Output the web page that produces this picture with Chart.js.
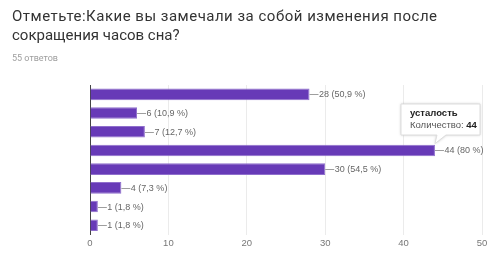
<!DOCTYPE html>
<html><head><meta charset="utf-8">
<script src="https://cdn.jsdelivr.net/npm/chart.js@4"></script>
<style>
html,body{margin:0;padding:0;background:#fff;}
#wrap{position:relative;width:503px;height:269px;overflow:hidden;}
#title{position:absolute;left:12px;top:7px;font-family:Roboto,"Noto Sans",sans-serif;font-size:15px;line-height:19px;color:#333;white-space:nowrap;}
#title .l1{letter-spacing:0.5px;}
#sub{position:absolute;left:12px;top:53px;font-family:Roboto,"Noto Sans",sans-serif;font-size:9px;color:#9e9e9e;}
canvas{position:absolute;left:0;top:0;}
</style></head>
<body><div id="wrap">
<canvas id="c" width="503" height="269"></canvas>
<div id="title"><span class="l1">Отметьте:Какие вы замечали за собой изменения после</span><br>сокращения часов сна?</div>
<div id="sub">55 ответов</div>
</div>
<script>
const categories = ["", "", "", "усталость", "", "", "", ""];
const counts = [28, 6, 7, 44, 30, 4, 1, 1];
const totalResponses = 55;
const xTicks = [0, 10, 20, 30, 40, 50];
const seriesLabel = "Количество";
const highlightIndex = 3;

function pct(v){
  let s = (Math.round(v / totalResponses * 1000) / 10).toFixed(1).replace('.', ',');
  if (s.endsWith(',0')) s = s.slice(0, -2);
  return s;
}

const labelPlugin = {
  id: 'barLabels',
  afterDatasetsDraw(chart){
    const ctx = chart.ctx;
    const meta = chart.getDatasetMeta(0);
    ctx.save();
    ctx.font = '9px "Liberation Sans", Arial, sans-serif';
    ctx.textBaseline = 'middle';
    meta.data.forEach((bar, i) => {
      const x = bar.x, y = bar.y;
      ctx.strokeStyle = '#9e9e9e';
      ctx.lineWidth = 1;
      ctx.beginPath();
      ctx.moveTo(x, Math.round(y) + 0.5);
      ctx.lineTo(x + 9, Math.round(y) + 0.5);
      ctx.stroke();
      ctx.fillStyle = '#666';
      ctx.fillText(counts[i] + ' (' + pct(counts[i]) + ' %)', x + 9.5, y + 0.5);
    });
    // tooltip
    const b = meta.data[highlightIndex];
    const tipX = b.x, tipY = b.y - b.height / 2 - 1;
    const bx = 401, by = 104, bw = 79, bh = 31;
    ctx.shadowColor = 'rgba(0,0,0,0.25)';
    ctx.shadowBlur = 3;
    ctx.fillStyle = '#fff';
    ctx.beginPath();
    ctx.moveTo(bx, by);
    ctx.lineTo(bx + bw, by);
    ctx.lineTo(bx + bw, by + bh);
    ctx.lineTo(tipX + 11, by + bh);
    ctx.lineTo(tipX, tipY);
    ctx.lineTo(tipX + 2, by + bh);
    ctx.lineTo(bx, by + bh);
    ctx.closePath();
    ctx.fill();
    ctx.shadowBlur = 0;
    ctx.strokeStyle = '#ddd';
    ctx.stroke();
    ctx.textBaseline = 'alphabetic';
    ctx.fillStyle = '#222';
    ctx.font = 'bold 9.5px "Liberation Sans", Arial, sans-serif';
    ctx.fillText(categories[highlightIndex], bx + 9, by + 12);
    ctx.font = '9.5px "Liberation Sans", Arial, sans-serif';
    ctx.fillStyle = '#555';
    const t1 = seriesLabel + ': ';
    ctx.fillText(t1, bx + 9, by + 24);
    const w1 = ctx.measureText(t1).width;
    ctx.font = 'bold 9.5px "Liberation Sans", Arial, sans-serif';
    ctx.fillStyle = '#222';
    ctx.fillText(String(counts[highlightIndex]), bx + 9 + w1, by + 24);
    ctx.restore();
  }
};

new Chart(document.getElementById('c'), {
  type: 'bar',
  data: {
    labels: categories,
    datasets: [{
      label: seriesLabel,
      data: counts,
      backgroundColor: '#673ab7',
      borderColor: '#8f6fcc',
      borderWidth: 1,
      barPercentage: 0.62,
      categoryPercentage: 1
    }]
  },
  options: {
    indexAxis: 'y',
    responsive: false,
    animation: false,
    events: [],
    layout: { padding: { left: 90, right: 21, top: 85, bottom: 17 } },
    plugins: { legend: { display: false }, tooltip: { enabled: false }, title: { display: false } },
    scales: {
      x: {
        min: 0, max: 50,
        afterBuildTicks(scale){ scale.ticks = xTicks.map(v => ({ value: v })); },
        grid: { color: '#ebebeb', drawTicks: false },
        border: { display: false },
        ticks: { color: '#777', font: { size: 9.5, family: '"Liberation Sans", Arial, sans-serif' }, padding: 3 }
      },
      y: {
        grid: { display: false, drawTicks: false },
        border: { display: true, color: '#444', width: 1 },
        ticks: { display: false }
      }
    }
  },
  plugins: [labelPlugin]
});
</script>
</body></html>
